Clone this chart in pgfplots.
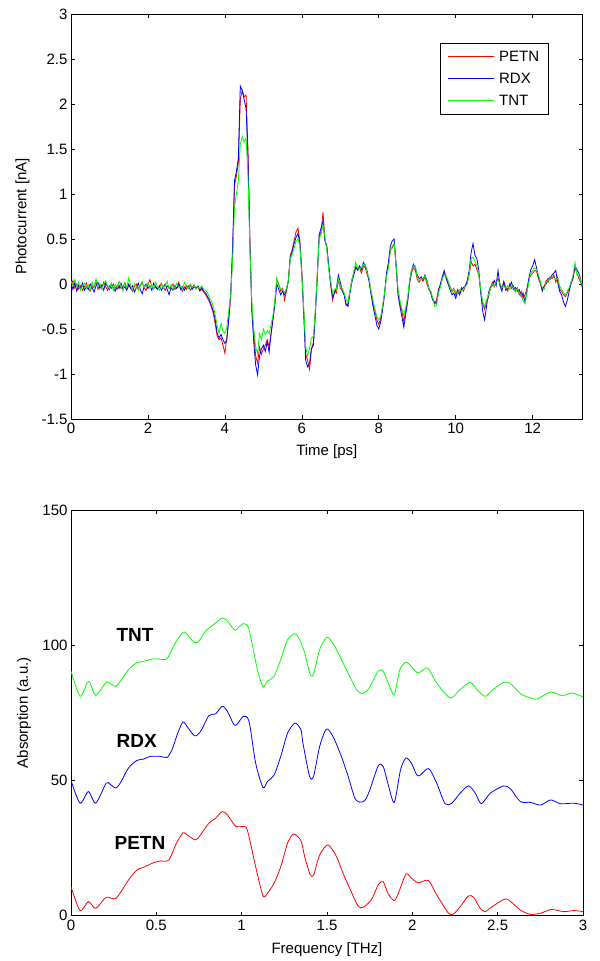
\documentclass[border=0pt]{standalone}
\usepackage{pgfplots}
\pgfplotsset{compat=1.18}
\usepackage{pgfplotstable}
\usepackage{fontspec}
\setmainfont{Liberation Sans}
\newcommand{\fs}{\fontsize{15bp}{17bp}\selectfont}

\pgfplotstableread{
t p r g
0.00 -0.02 0.01 0.03
0.05 0.04 -0.06 -0.01
0.10 -0.05 0.02 0.05
0.15 0.00 -0.08 -0.03
0.20 -0.06 -0.01 0.02
0.25 -0.02 -0.05 -0.07
0.30 -0.07 0.01 -0.02
0.35 -0.03 -0.07 0.01
0.40 0.01 -0.03 -0.05
0.45 -0.05 -0.06 -0.01
0.50 -0.08 0.00 -0.06
0.55 -0.02 -0.04 0.02
0.60 -0.04 -0.09 -0.04
0.65 0.03 -0.02 0.06
0.70 -0.06 0.02 -0.03
0.75 -0.01 -0.05 0.01
0.80 -0.04 -0.01 -0.06
0.85 0.02 -0.07 0.00
0.90 -0.03 0.01 0.04
0.95 -0.07 -0.03 -0.02
1.00 -0.02 -0.06 -0.05
1.05 -0.05 0.00 0.01
1.10 0.00 -0.04 -0.07
1.15 -0.04 -0.08 -0.01
1.20 -0.06 -0.02 -0.04
1.25 -0.01 -0.05 0.03
1.30 -0.05 0.01 -0.03
1.35 -0.03 -0.06 -0.08
1.40 0.01 -0.03 0.02
1.45 -0.06 -0.07 -0.04
1.50 -0.02 0.00 0.07
1.55 -0.04 -0.05 -0.02
1.60 -0.08 -0.02 -0.06
1.65 -0.03 -0.09 0.00
1.70 0.00 -0.04 -0.03
1.75 -0.05 0.01 -0.07
1.80 -0.02 -0.06 -0.01
1.85 0.02 -0.11 0.03
1.90 -0.04 -0.03 -0.04
1.95 -0.07 0.00 -0.02
2.00 -0.01 -0.05 0.01
2.05 0.05 -0.02 -0.05
2.10 -0.03 -0.07 -0.01
2.15 -0.05 0.01 -0.06
2.20 -0.02 -0.04 0.02
2.25 -0.06 -0.06 -0.03
2.30 -0.03 -0.02 -0.07
2.35 0.01 -0.07 0.00
2.40 -0.04 -0.03 -0.04
2.45 -0.07 0.00 -0.02
2.50 -0.02 -0.06 0.03
2.55 -0.05 -0.12 -0.05
2.60 -0.03 -0.04 -0.01
2.65 0.00 -0.07 -0.06
2.70 -0.06 -0.02 -0.03
2.75 -0.04 -0.05 0.01
2.80 0.02 0.00 -0.04
2.85 -0.05 -0.06 -0.02
2.90 -0.08 -0.03 -0.05
2.95 -0.03 -0.07 0.02
3.00 -0.06 -0.02 -0.03
3.05 -0.02 -0.05 -0.05
3.10 -0.07 -0.01 0.00
3.15 -0.04 -0.06 -0.04
3.20 -0.01 -0.03 -0.02
3.25 -0.05 -0.05 -0.06
3.30 -0.03 -0.02 -0.03
3.35 -0.08 -0.07 -0.05
3.40 -0.06 -0.04 -0.02
3.45 -0.09 -0.08 -0.06
3.50 -0.12 -0.10 -0.07
3.55 -0.16 -0.14 -0.10
3.60 -0.20 -0.18 -0.15
3.65 -0.26 -0.24 -0.19
3.70 -0.33 -0.30 -0.25
3.75 -0.45 -0.40 -0.35
3.80 -0.58 -0.55 -0.46
3.85 -0.62 -0.60 -0.55
3.90 -0.60 -0.56 -0.44
3.95 -0.68 -0.62 -0.52
4.00 -0.77 -0.66 -0.55
4.05 -0.60 -0.62 -0.48
4.10 -0.40 -0.38 -0.30
4.15 -0.15 -0.12 -0.12
4.20 0.35 0.40 0.25
4.25 1.10 1.15 0.85
4.30 1.20 1.25 1.00
4.35 1.35 1.40 1.15
4.40 2.05 2.20 1.55
4.45 2.15 2.15 1.64
4.50 2.08 2.05 1.58
4.55 2.10 1.95 1.62
4.60 1.50 1.40 1.20
4.65 0.50 0.45 0.40
4.70 -0.25 -0.30 -0.20
4.75 -0.55 -0.65 -0.50
4.80 -0.80 -0.90 -0.70
4.85 -0.88 -1.01 -0.77
4.90 -0.70 -0.80 -0.55
4.95 -0.78 -0.72 -0.62
5.00 -0.72 -0.68 -0.50
5.05 -0.68 -0.75 -0.56
5.10 -0.62 -0.64 -0.52
5.15 -0.70 -0.76 -0.55
5.20 -0.55 -0.55 -0.45
5.25 -0.38 -0.40 -0.35
5.30 -0.20 -0.22 -0.18
5.35 0.05 0.00 0.07
5.40 0.00 -0.06 -0.02
5.45 -0.08 -0.12 -0.05
5.50 -0.05 -0.08 -0.06
5.55 -0.18 -0.12 -0.10
5.60 -0.08 -0.06 -0.05
5.65 0.05 0.03 0.04
5.70 0.32 0.30 0.28
5.75 0.38 0.36 0.33
5.80 0.48 0.45 0.40
5.85 0.58 0.52 0.48
5.90 0.62 0.56 0.50
5.95 0.48 0.45 0.42
6.00 0.15 0.10 0.10
6.05 -0.30 -0.35 -0.28
6.10 -0.78 -0.85 -0.70
6.15 -0.85 -0.92 -0.80
6.20 -0.95 -0.88 -0.72
6.25 -0.72 -0.72 -0.60
6.30 -0.65 -0.68 -0.58
6.35 -0.30 -0.35 -0.30
6.40 0.10 0.05 0.10
6.45 0.52 0.55 0.50
6.50 0.58 0.62 0.55
6.55 0.80 0.70 0.66
6.60 0.50 0.48 0.52
6.65 0.40 0.42 0.38
6.70 0.18 0.20 0.16
6.75 -0.02 0.00 0.03
6.80 -0.18 -0.15 -0.10
6.85 -0.08 -0.10 -0.06
6.90 -0.10 -0.04 -0.05
6.95 0.05 0.10 0.06
7.00 -0.05 0.02 -0.03
7.05 -0.06 -0.08 -0.05
7.10 -0.12 -0.12 -0.10
7.15 -0.24 -0.22 -0.18
7.20 -0.22 -0.25 -0.20
7.25 -0.08 -0.10 -0.08
7.30 0.05 0.02 0.04
7.35 0.12 0.10 0.14
7.40 0.20 0.18 0.24
7.45 0.15 0.16 0.18
7.50 0.18 0.20 0.17
7.55 0.12 0.16 0.18
7.60 0.20 0.24 0.22
7.65 0.18 0.20 0.22
7.70 0.10 0.14 0.12
7.75 0.05 0.02 0.06
7.80 -0.10 -0.12 -0.08
7.85 -0.22 -0.25 -0.18
7.90 -0.30 -0.35 -0.28
7.95 -0.40 -0.46 -0.36
8.00 -0.45 -0.50 -0.40
8.05 -0.38 -0.42 -0.36
8.10 -0.25 -0.28 -0.24
8.15 -0.10 -0.12 -0.10
8.20 0.10 0.12 0.08
8.25 0.20 0.24 0.18
8.30 0.38 0.42 0.36
8.35 0.40 0.48 0.42
8.40 0.45 0.50 0.45
8.45 0.20 0.22 0.20
8.50 -0.10 -0.12 -0.06
8.55 -0.22 -0.25 -0.18
8.60 -0.30 -0.36 -0.28
8.65 -0.42 -0.48 -0.35
8.70 -0.30 -0.34 -0.26
8.75 -0.18 -0.20 -0.15
8.80 0.00 0.02 0.04
8.85 0.12 0.15 0.15
8.90 0.18 0.22 0.20
8.95 0.15 0.18 0.20
9.00 0.05 0.10 0.08
9.05 0.02 0.06 0.04
9.10 0.06 0.08 0.05
9.15 0.03 0.05 0.06
9.20 0.08 0.10 0.09
9.25 0.00 0.04 0.03
9.30 -0.06 -0.04 -0.05
9.35 -0.08 -0.10 -0.08
9.40 -0.16 -0.18 -0.15
9.45 -0.22 -0.20 -0.25
9.50 -0.18 -0.22 -0.24
9.55 -0.06 -0.08 -0.10
9.60 -0.02 0.00 -0.04
9.65 0.06 0.08 0.06
9.70 0.12 0.15 0.10
9.75 0.08 0.06 0.09
9.80 0.02 0.00 0.04
9.85 -0.02 -0.06 -0.03
9.90 -0.08 -0.12 -0.10
9.95 -0.05 -0.10 -0.06
10.00 -0.12 -0.16 -0.08
10.05 -0.06 -0.08 -0.10
10.10 -0.10 -0.12 -0.06
10.15 -0.04 -0.06 -0.08
10.20 -0.08 -0.04 -0.05
10.25 -0.02 -0.02 -0.03
10.30 0.02 0.04 0.00
10.35 0.10 0.15 0.12
10.40 0.25 0.35 0.28
10.45 0.20 0.45 0.30
10.50 0.22 0.32 0.25
10.55 0.16 0.28 0.20
10.60 0.10 0.15 0.10
10.65 -0.08 -0.10 -0.06
10.70 -0.22 -0.30 -0.20
10.75 -0.28 -0.40 -0.25
10.80 -0.20 -0.25 -0.18
10.85 -0.15 -0.10 -0.12
10.90 -0.05 -0.04 -0.06
10.95 0.02 -0.02 0.00
11.00 -0.03 0.04 -0.02
11.05 0.03 -0.02 0.02
11.10 0.06 0.15 0.04
11.15 0.00 -0.02 0.01
11.20 -0.05 -0.08 -0.04
11.25 0.03 0.02 -0.02
11.30 -0.04 -0.07 -0.05
11.35 -0.08 -0.05 -0.02
11.40 0.00 -0.02 -0.06
11.45 -0.05 0.02 -0.02
11.50 -0.02 -0.06 -0.04
11.55 -0.08 -0.04 -0.09
11.60 -0.04 -0.08 -0.05
11.65 -0.12 -0.06 -0.10
11.70 -0.08 -0.14 -0.12
11.75 -0.16 -0.10 -0.18
11.80 -0.12 -0.20 -0.22
11.85 -0.05 -0.08 -0.10
11.90 0.05 0.06 0.02
11.95 0.10 0.16 0.12
12.00 0.12 0.20 0.15
12.05 0.15 0.27 0.18
12.10 0.14 0.18 0.16
12.15 0.06 0.08 0.10
12.20 0.00 0.02 0.02
12.25 -0.06 -0.08 -0.04
12.30 -0.03 -0.02 -0.06
12.35 0.04 0.00 0.02
12.40 0.02 0.06 0.04
12.45 0.08 0.05 0.06
12.50 0.06 0.10 0.08
12.55 0.10 0.12 0.07
12.60 0.02 0.15 0.05
12.65 0.08 0.02 0.06
12.70 -0.06 -0.08 -0.02
12.75 -0.08 -0.12 -0.06
12.80 -0.12 -0.20 -0.10
12.85 -0.14 -0.25 -0.12
12.90 -0.10 -0.18 -0.08
12.95 -0.05 -0.08 -0.04
13.00 0.00 0.02 0.02
13.05 0.06 0.08 0.10
13.10 0.18 0.20 0.24
13.15 0.12 0.16 0.10
13.20 0.06 0.12 0.10
13.25 0.02 0.05 0.04
13.30 -0.04 -0.06 -0.02
}\timedata

\pgfplotsset{
  myaxis/.style={
    scale only axis,
    axis line style={line width=0.8bp,black},
    tick style={line width=0.6bp,black},
    major tick length=4bp,
    tick align=inside,
    /pgf/number format/assume math mode=true,
    tick label style={font=\fs},
    label style={font=\fs},
    xticklabel style={yshift=-1bp},
    every axis plot/.append style={line width=0.8bp},
  }
}

\begin{document}
\begin{tikzpicture}
\useasboundingbox (0,0) rectangle (600bp,961bp);
\begin{axis}[myaxis,
  at={(71bp,542bp)}, anchor=south west,
  width=511.7bp, height=405bp,
  xmin=0, xmax=13.3, ymin=-1.5, ymax=3,
  xtick={0,2,4,6,8,10,12},
  ytick={-1.5,-1,-0.5,0,0.5,1,1.5,2,2.5,3},
  xlabel={Time [ps]}, ylabel={Photocurrent [nA]},
  xlabel style={at={(axis description cs:0.5,-0.081)}, anchor=center},
  ylabel style={at={(axis description cs:-0.095,0.5)}, anchor=center},
  legend style={at={(axis description cs:0.721,0.929)}, anchor=north west,
    draw=black, line width=0.8bp, font=\fs, inner xsep=7bp, inner ysep=5bp,
    row sep=5bp, column sep=3bp,
    nodes={inner sep=2bp, text height=11bp, text depth=2bp}},
  legend cell align=left,
  legend image code/.code={\draw[#1] (0bp,0bp) -- (46bp,0bp);},
]
\addplot[red] table[x=t,y=p] {\timedata};
\addlegendentry{PETN}
\addplot[blue] table[x=t,y=r] {\timedata};
\addlegendentry{RDX}
\addplot[green] table[x=t,y=g] {\timedata};
\addlegendentry{TNT}
\end{axis}

\begin{axis}[myaxis,
  at={(71bp,45.3bp)}, anchor=south west,
  width=512bp, height=405.7bp,
  xmin=0, xmax=3, ymin=0, ymax=150,
  xtick={0,0.5,1,1.5,2,2.5,3},
  ytick={0,50,100,150},
  xlabel={Frequency [THz]}, ylabel={Absorption (a.u.)},
  xlabel style={at={(axis description cs:0.5,-0.083)}, anchor=center},
  ylabel style={at={(axis description cs:-0.092,0.5)}, anchor=center},
  every axis plot/.append style={smooth, tension=0.45},
]
\addplot[green] coordinates {
(0,90.4) (0.053,81.1) (0.096,86.3) (0.112,86) (0.145,81.5) (0.206,86.3) (0.224,86)
(0.263,84.8) (0.288,86.7) (0.337,91) (0.386,93.5) (0.425,94) (0.484,95) (0.543,94.7)
(0.567,95.3) (0.612,100.9) (0.657,104.8) (0.676,104.3) (0.72,101.1) (0.749,101.5)
(0.788,105.2) (0.837,107.7) (0.886,110.1) (0.916,108.9) (0.955,105.8) (0.97,105.8)
(1.01,108) (1.043,105.8) (1.092,91) (1.125,84.6) (1.151,86.7) (1.19,88.5) (1.229,94.7)
(1.269,102.1) (1.312,104.2) (1.339,102.1) (1.369,97.2) (1.402,89.1) (1.422,89.5)
(1.457,98.4) (1.5,103) (1.545,99.6) (1.594,93.5) (1.633,88.5) (1.673,83.6) (1.702,82.1)
(1.741,83.6) (1.8,90.4) (1.829,90.4) (1.859,86) (1.894,81.7) (1.927,91) (1.967,93.7)
(2.025,90) (2.045,90) (2.09,91.6) (2.143,86) (2.222,80.5) (2.28,83.6) (2.339,86.3)
(2.378,83.6) (2.427,81.1) (2.467,83.3) (2.535,86.3) (2.575,85.8) (2.633,82.1)
(2.692,80.5) (2.731,80.1) (2.81,82.7) (2.878,81.4) (2.937,82.3) (3.0,80.9)
};
\addplot[blue] coordinates {
(0,50) (0.053,41.6) (0.102,45.9) (0.145,41.6) (0.206,49) (0.229,48.6) (0.263,47.2)
(0.288,49) (0.337,54.6) (0.386,57.4) (0.425,57.9) (0.465,58.9) (0.524,58.9) (0.563,58.5)
(0.592,61.4) (0.622,66.9) (0.655,71.6) (0.68,70) (0.724,66.5) (0.759,68.1) (0.808,74)
(0.847,74.6) (0.886,77.4) (0.916,75.6) (0.955,70.6) (0.975,70.9) (1.01,73.7) (1.043,71.9)
(1.082,56.4) (1.125,47.4) (1.151,49.6) (1.19,52) (1.229,58.9) (1.269,67.5) (1.312,71.2)
(1.347,68.8) (1.359,63.8) (1.398,51.5) (1.422,51.7) (1.457,62.6) (1.496,69) (1.535,66.3)
(1.584,58.9) (1.624,51.5) (1.663,43.5) (1.692,42) (1.722,42.6) (1.751,46.5) (1.8,55.4)
(1.829,55.2) (1.859,48.4) (1.894,41.9) (1.931,54) (1.963,58.3) (1.996,56.2) (2.025,52.1)
(2.045,51.9) (2.084,54.2) (2.104,53.9) (2.143,49) (2.192,41.4) (2.231,41.6) (2.28,45.3)
(2.329,48) (2.369,45.3) (2.404,41.4) (2.457,45.3) (2.535,48) (2.575,46.9) (2.633,42.2)
(2.692,41.9) (2.751,40.9) (2.81,42.8) (2.869,41.4) (2.947,41.6) (3.0,40.9)
};
\addplot[red] coordinates {
(0,10.7) (0.053,1.9) (0.102,5.2) (0.145,2.7) (0.206,6.8) (0.263,6.4) (0.337,13.2)
(0.386,16.9) (0.425,17.9) (0.484,19.6) (0.524,20.2) (0.573,20.6) (0.618,26.8)
(0.657,30.7) (0.68,29.9) (0.729,28) (0.759,29.9) (0.808,34.2) (0.847,36) (0.886,38.5)
(0.916,37.3) (0.965,33) (1.004,33) (1.033,31.7) (1.082,18.1) (1.125,7.3) (1.151,8.3)
(1.19,12) (1.229,18.1) (1.269,26.8) (1.304,30.2) (1.347,27.8) (1.369,21.9) (1.402,15.1)
(1.422,15.1) (1.457,22.5) (1.506,26.2) (1.555,21.9) (1.594,15.7) (1.633,10.1)
(1.682,3.6) (1.712,3.1) (1.761,6) (1.8,11.4) (1.829,12.6) (1.859,8) (1.894,5.6)
(1.918,8.3) (1.963,15.4) (1.996,13.8) (2.035,12.2) (2.094,13) (2.143,7.7) (2.212,0.9)
(2.241,0.6) (2.28,3.3) (2.329,7.3) (2.359,6.8) (2.398,2.7) (2.427,1.5) (2.467,3.3)
(2.535,6) (2.565,5.8) (2.633,2.1) (2.692,0.5) (2.751,0.9) (2.814,2.3) (2.888,1.5)
(2.947,1.9) (3.0,1.5)
};
\node[font=\fontsize{19bp}{21bp}\selectfont\bfseries] at (axis cs:0.375,103.8) {TNT};
\node[font=\fontsize{19bp}{21bp}\selectfont\bfseries] at (axis cs:0.385,64.7) {RDX};
\node[font=\fontsize{19bp}{21bp}\selectfont\bfseries] at (axis cs:0.404,26.8) {PETN};
\end{axis}
\end{tikzpicture}
\end{document}
